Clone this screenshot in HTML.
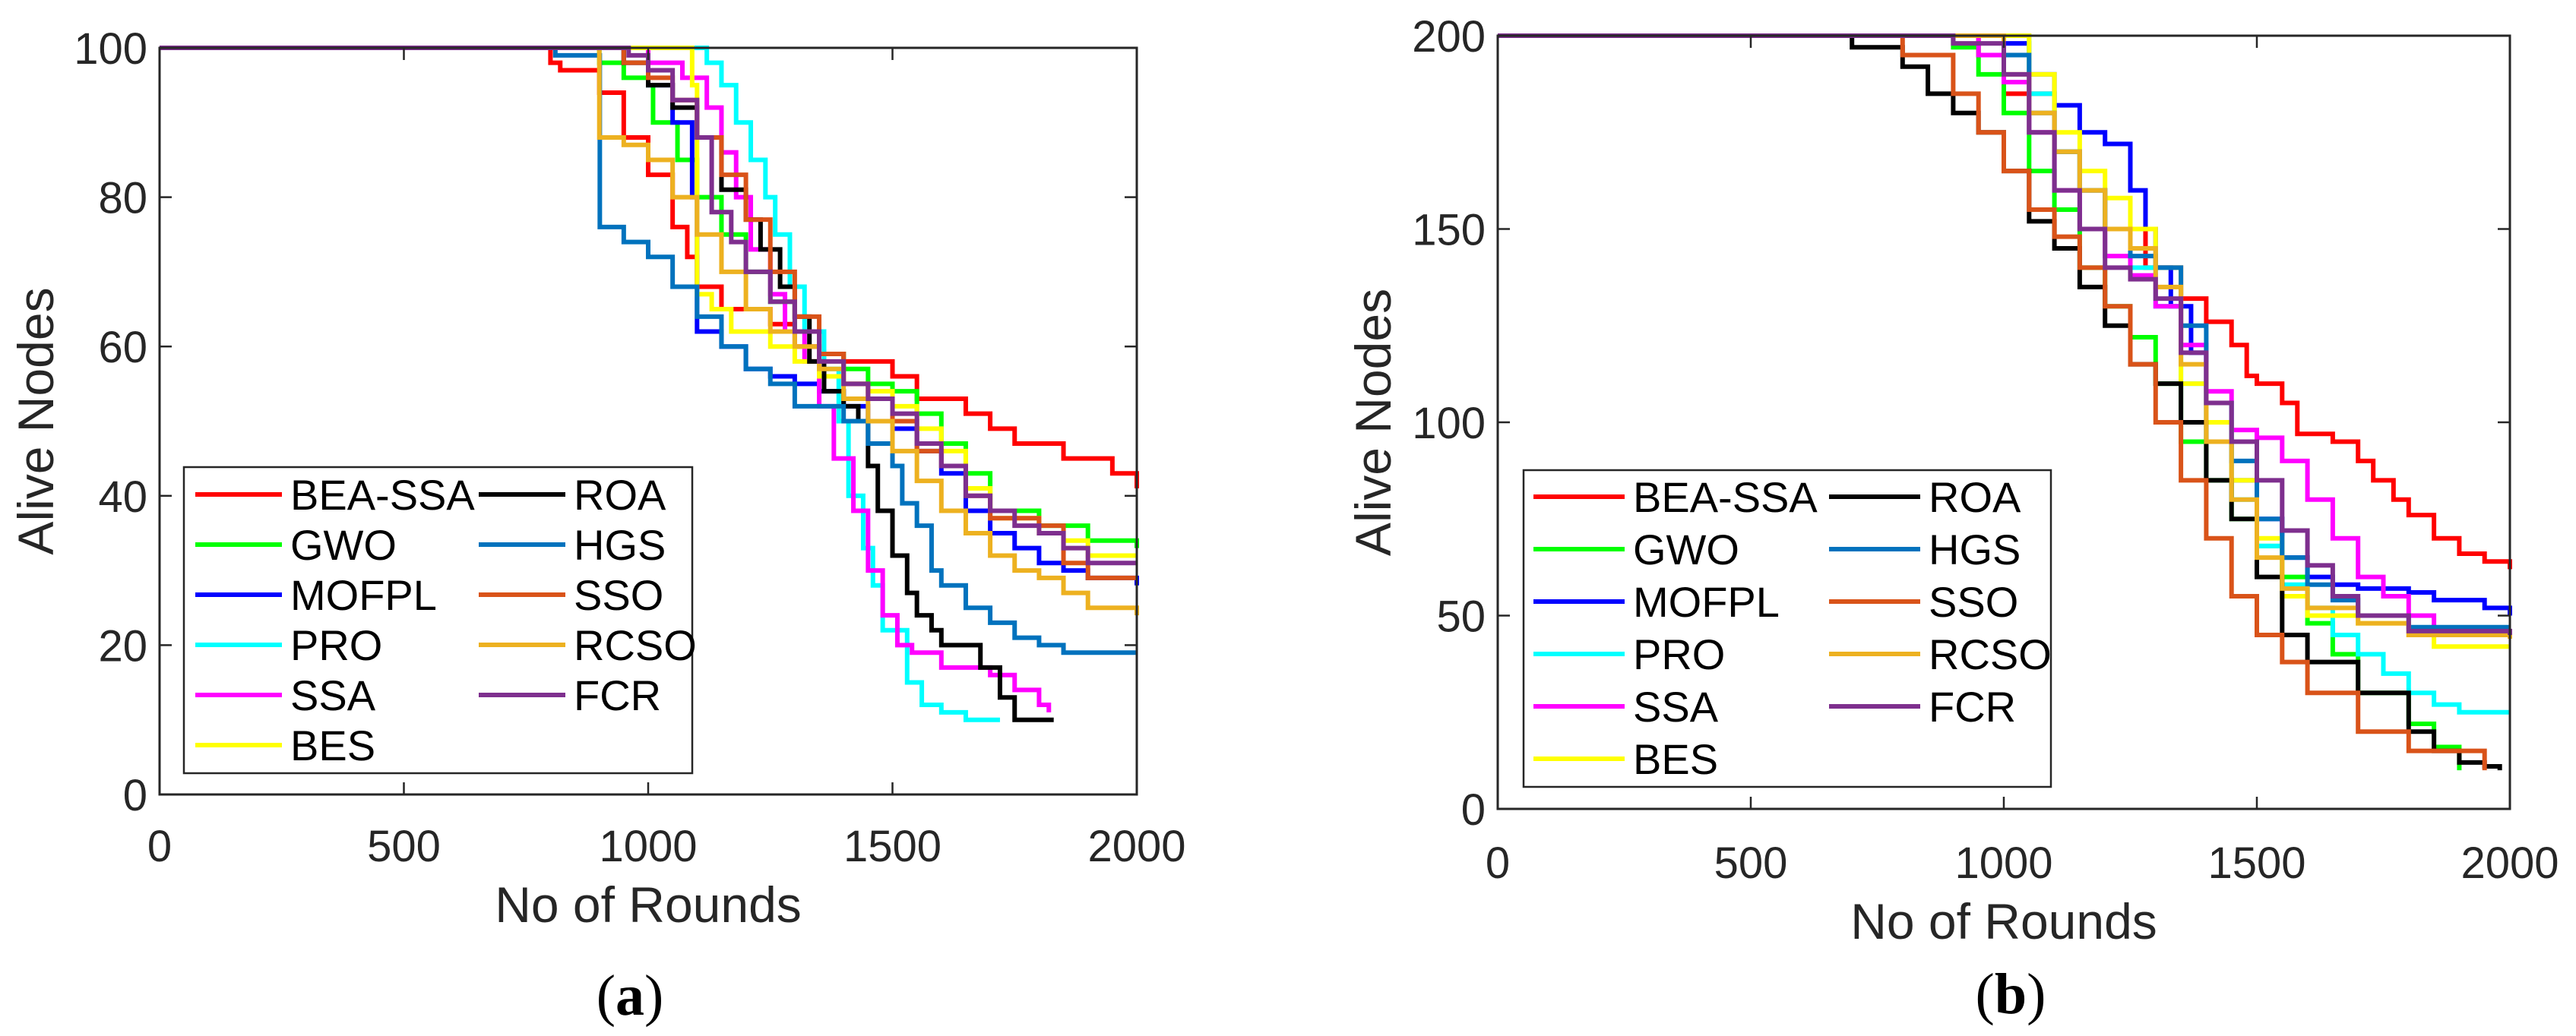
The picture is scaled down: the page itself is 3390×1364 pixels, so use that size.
<!DOCTYPE html>
<html><head><meta charset="utf-8">
<style>
html,body{margin:0;padding:0;background:#fff;}
svg{display:block;font-family:"Liberation Sans",Arial,sans-serif;}
</style></head>
<body>
<svg id="chart" width="3390" height="1364" viewBox="0 0 3390 1364" xmlns="http://www.w3.org/2000/svg"></svg>
<script>
const seriesNames = ["BEA-SSA","GWO","MOFPL","PRO","SSA","BES","ROA","HGS","SSO","RCSO","FCR"];
const seriesColors = ["#ff0000","#00ff00","#0000ff","#00ffff","#ff00ff","#ffff00","#000000","#0072bd","#d95319","#edb120","#7e2f8e"];
const xTicks = [0,500,1000,1500,2000];
const yTicksA = [0,20,40,60,80,100];
const yTicksB = [0,50,100,150,200];

// Panel (a): [round, alive] pairs
const aBEA = [[0,100],[780,100],[800,98],[820,97],[880,97],[900,94],[950,88],[1000,83],[1050,76],[1080,72],[1100,68],[1150,65],[1250,63],[1300,60],[1350,59],[1400,58],[1450,58],[1500,56],[1550,53],[1650,51],[1700,49],[1750,47],[1850,45],[1950,43],[2000,41]];
const aGWO = [[0,100],[880,100],[900,98],[950,96],[1000,95],[1010,90],[1060,85],[1100,80],[1150,75],[1200,70],[1250,66],[1300,62],[1350,59],[1400,57],[1450,55],[1500,54],[1550,51],[1600,47],[1650,43],[1700,38],[1800,36],[1900,34],[2000,33]];
const aMOFPL = [[0,100],[920,100],[950,98],[1000,95],[1050,90],[1090,80],[1100,62],[1150,60],[1200,57],[1250,56],[1300,55],[1350,54],[1400,52],[1450,50],[1500,49],[1550,46],[1600,43],[1650,38],[1700,35],[1750,33],[1800,31],[1850,30],[1900,29],[2000,28]];
const aPRO = [[0,100],[1100,100],[1120,98],[1150,95],[1180,90],[1210,85],[1240,80],[1260,75],[1290,68],[1320,62],[1360,57],[1390,50],[1410,40],[1440,33],[1460,28],[1480,22],[1530,15],[1560,12],[1600,11],[1650,10],[1720,10]];
const aSSA = [[0,100],[950,100],[1000,98],[1070,96],[1120,92],[1150,86],[1180,80],[1210,73],[1250,67],[1280,62],[1320,58],[1350,52],[1380,45],[1420,38],[1450,30],[1480,24],[1510,20],[1540,19],[1600,17],[1700,16],[1750,14],[1800,12],[1820,11]];
const aBES = [[0,100],[1050,100],[1090,95],[1100,67],[1130,65],[1170,62],[1250,60],[1300,58],[1350,56],[1400,55],[1450,54],[1500,52],[1550,49],[1600,46],[1650,41],[1700,37],[1800,35],[1850,34],[1900,32],[2000,32]];
const aROA = [[0,100],[900,100],[950,98],[1000,95],[1050,92],[1100,88],[1150,81],[1200,77],[1230,73],[1270,68],[1300,64],[1330,58],[1360,54],[1400,52],[1430,50],[1450,44],[1470,38],[1500,32],[1530,27],[1550,24],[1580,22],[1600,20],[1650,20],[1680,17],[1720,13],[1750,10],[1830,10]];
const aHGS = [[0,100],[800,100],[810,99],[900,99],[901,76],[950,74],[1000,72],[1050,68],[1100,64],[1150,60],[1200,57],[1250,55],[1300,52],[1350,52],[1400,50],[1450,47],[1500,44],[1520,39],[1550,36],[1580,30],[1600,28],[1650,25],[1700,23],[1750,21],[1800,20],[1850,19],[2000,19]];
const aSSO = [[0,100],[900,100],[950,98],[1000,96],[1050,93],[1100,88],[1150,83],[1200,77],[1250,70],[1300,64],[1350,59],[1400,55],[1450,53],[1500,50],[1550,46],[1600,44],[1650,40],[1700,37],[1800,36],[1850,31],[1900,29],[2000,29]];
const aRCSO = [[0,100],[890,100],[900,88],[950,87],[1000,85],[1050,80],[1100,75],[1150,70],[1200,65],[1250,62],[1300,60],[1350,57],[1400,53],[1450,50],[1500,46],[1550,42],[1600,38],[1650,35],[1700,32],[1750,30],[1800,29],[1850,27],[1900,25],[2000,24]];
const aFCR = [[0,100],[930,100],[960,99],[1000,97],[1050,93],[1100,88],[1130,78],[1170,74],[1200,70],[1250,66],[1300,62],[1350,58],[1400,55],[1450,53],[1500,51],[1550,47],[1600,44],[1650,40],[1700,38],[1750,36],[1800,35],[1850,33],[1900,31],[2000,31]];

// Panel (b)
const bBEA = [[0,200],[900,200],[950,195],[1000,185],[1100,170],[1150,160],[1200,150],[1280,140],[1350,132],[1400,126],[1430,126],[1450,120],[1480,112],[1500,110],[1550,105],[1580,97],[1650,95],[1700,90],[1730,85],[1770,80],[1800,76],[1850,70],[1900,66],[1950,64],[2000,62]];
const bGWO = [[0,200],[800,200],[900,197],[950,190],[1000,180],[1050,165],[1100,155],[1150,140],[1200,130],[1250,122],[1300,110],[1350,95],[1400,85],[1450,75],[1500,68],[1550,60],[1600,48],[1650,40],[1700,30],[1800,22],[1850,16],[1900,10]];
const bMOFPL = [[0,200],[950,200],[1000,198],[1050,190],[1100,182],[1150,175],[1200,172],[1250,160],[1280,150],[1300,140],[1330,130],[1370,118],[1400,100],[1450,85],[1500,75],[1550,65],[1600,60],[1650,58],[1700,57],[1800,56],[1850,54],[1950,52],[2000,50]];
const bPRO = [[0,200],[1000,200],[1050,185],[1100,170],[1150,160],[1200,150],[1250,140],[1300,130],[1350,110],[1400,95],[1450,80],[1500,68],[1550,58],[1600,52],[1650,45],[1700,40],[1750,35],[1800,30],[1850,27],[1900,25],[2000,25]];
const bSSA = [[0,200],[900,200],[950,195],[1000,188],[1050,175],[1100,160],[1150,150],[1200,143],[1250,138],[1300,130],[1350,120],[1400,108],[1450,98],[1500,96],[1550,90],[1600,80],[1650,70],[1700,60],[1750,55],[1800,50],[1850,45],[2000,44]];
const bBES = [[0,200],[1020,200],[1050,190],[1100,175],[1150,165],[1200,158],[1250,150],[1300,140],[1350,110],[1400,100],[1450,85],[1500,70],[1550,55],[1600,50],[1700,48],[1800,45],[1850,42],[2000,42]];
const bROA = [[0,200],[620,200],[700,197],[800,192],[850,185],[900,180],[950,175],[1000,165],[1050,152],[1100,145],[1150,135],[1200,125],[1250,115],[1300,110],[1350,100],[1400,85],[1450,75],[1500,60],[1550,45],[1600,38],[1700,30],[1800,20],[1850,15],[1900,12],[1950,11],[1980,10]];
const bHGS = [[0,200],[900,200],[1000,195],[1050,180],[1100,170],[1150,160],[1200,150],[1250,143],[1300,140],[1350,125],[1400,105],[1450,90],[1500,75],[1550,65],[1600,58],[1650,54],[1700,50],[1800,47],[2000,47]];
const bSSO = [[0,200],[750,200],[800,195],[900,185],[950,175],[1000,165],[1050,155],[1100,148],[1150,140],[1200,130],[1250,115],[1300,100],[1350,85],[1400,70],[1450,55],[1500,45],[1550,38],[1600,30],[1700,20],[1800,15],[1950,10]];
const bRCSO = [[0,200],[950,200],[1000,190],[1050,180],[1100,170],[1150,160],[1200,150],[1250,145],[1300,135],[1350,115],[1400,95],[1450,80],[1500,65],[1550,57],[1600,52],[1700,48],[1800,45],[2000,44]];
const bFCR = [[0,200],[800,200],[900,198],[1000,190],[1050,175],[1100,160],[1150,150],[1200,140],[1250,137],[1300,132],[1350,118],[1400,105],[1450,95],[1500,85],[1550,72],[1600,63],[1650,55],[1700,50],[1800,46],[2000,45]];

const aSeries = [aBEA,aGWO,aMOFPL,aPRO,aSSA,aBES,aROA,aHGS,aSSO,aRCSO,aFCR];
const bSeries = [bBEA,bGWO,bMOFPL,bPRO,bSSA,bBES,bROA,bHGS,bSSO,bRCSO,bFCR];

const NS = "http://www.w3.org/2000/svg";
const svg = document.getElementById('chart');
function mk(tag, attrs, parent){ const e=document.createElementNS(NS,tag); for(const k in attrs) e.setAttribute(k,attrs[k]); (parent||svg).appendChild(e); return e; }

function panel(cfg){
  const g = mk('g',{});
  
  
  const {L,R,T,B,ymax} = cfg;
  const sx = v => L + v/2000*(R-L);
  const sy = v => B - v/ymax*(B-T);
  const sg = mk('g',{fill:'none','stroke-width':6,'stroke-linejoin':'miter'},g);
  cfg.series.forEach((pts,i)=>{
    let d = 'M'+sx(pts[0][0])+','+sy(pts[0][1]);
    for(let k=1;k<pts.length;k++){ d += ' H'+sx(pts[k][0])+' V'+sy(pts[k][1]); }
    const p = mk('path',{d:d,stroke:seriesColors[i]},sg);
    
    
  });
  const box = mk('rect',{x:L,y:T,width:R-L,height:B-T,fill:'none',stroke:'#262626','stroke-width':3},g);
  
  
  xTicks.forEach(t=>{
    const x=sx(t);
    mk('line',{x1:x,x2:x,y1:B,y2:B-16,stroke:'#262626','stroke-width':2.5},g);
    mk('line',{x1:x,x2:x,y1:T,y2:T+16,stroke:'#262626','stroke-width':2.5},g);
    const tx = mk('text',{x:x,y:cfg.xtickY,'text-anchor':'middle','font-size':58,fill:'#262626'},g);
    tx.textContent=t;
    
    
  });
  cfg.yTicks.forEach(t=>{
    const y=sy(t);
    mk('line',{x1:L,x2:L+16,y1:y,y2:y,stroke:'#262626','stroke-width':2.5},g);
    mk('line',{x1:R,x2:R-16,y1:y,y2:y,stroke:'#262626','stroke-width':2.5},g);
    const ty = mk('text',{x:L-16,y:y+21,'text-anchor':'end','font-size':58,fill:'#262626'},g);
    ty.textContent=t;
    
    
  });
  const xt = mk('text',{x:(L+R)/2,y:cfg.xtitleY,'text-anchor':'middle','font-size':66,fill:'#262626'},g);
  xt.textContent='No of Rounds';
  
  
  const yt = mk('text',{x:0,y:0,'text-anchor':'middle','font-size':66,fill:'#262626',transform:'translate('+cfg.ytitleX+','+((T+B)/2)+') rotate(-90)'},g);
  yt.textContent='Alive Nodes';
  
  
  const cap = mk('text',{x:cfg.capX,y:cfg.capY,'text-anchor':'middle','font-size':76,fill:'#000','font-family':'"Liberation Serif",serif'},g);
  cap.innerHTML='(<tspan font-weight="bold">'+cfg.id.slice(-1)+'</tspan>)';
  
  
  const lg = mk('g',{},g);
  
  
  const lb = cfg.leg;
  mk('rect',{x:lb.x,y:lb.y,width:lb.w,height:lb.h,fill:'#fff',stroke:'#262626','stroke-width':2.5},lg);
  seriesNames.forEach((n,i)=>{
    const col = i<6?0:1, row = i<6?i:i-6;
    const y = lb.r0 + row*lb.dr;
    const x0 = col===0?lb.c0:lb.c1;
    const ent = mk('g',{},lg);
    
    
    mk('line',{x1:x0,x2:x0+lb.lw,y1:y,y2:y,stroke:seriesColors[i],'stroke-width':6},ent);
    const t = mk('text',{x:x0+lb.lw+11,y:y+20,'font-size':56,fill:'#000'},ent);
    t.textContent=n;
  });
}

panel({id:'panel-a',L:210,R:1496,T:63,B:1046,ymax:100,series:aSeries,yTicks:yTicksA,
  xtickY:1134,xtitleY:1214,ytitleX:70,capX:829,capY:1336,
  leg:{x:242,y:615,w:669,h:403,r0:651,dr:66,c0:257,c1:630,lw:114}});
panel({id:'panel-b',L:1971,R:3303,T:47,B:1065,ymax:200,series:bSeries,yTicks:yTicksB,
  xtickY:1156,xtitleY:1236,ytitleX:1830,capX:2646,capY:1334,
  leg:{x:2005,y:619,w:694,h:417,r0:654,dr:69,c0:2018,c1:2407,lw:120}});
</script>
</body></html>
